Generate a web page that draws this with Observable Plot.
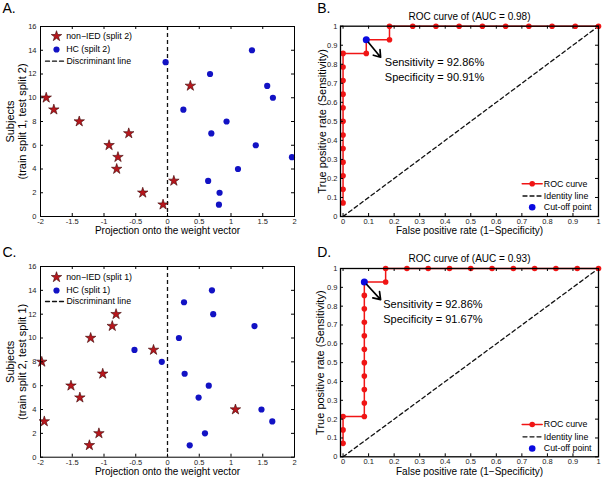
<!DOCTYPE html>
<html><head><meta charset="utf-8">
<script src="https://cdn.jsdelivr.net/npm/d3@7"></script>
<script src="https://cdn.jsdelivr.net/npm/@observablehq/plot@0.6"></script>
<style>
body{margin:0;background:#fff;}
#fig{position:relative;width:602px;height:479px;background:#fff;overflow:hidden;}
#fig > div{position:absolute;}
svg{overflow:visible;}
</style></head><body><div id="fig"></div>
<script>
// ---------- Panel A (split 2) ----------
const starA_x = [-1.91, -1.79, -1.39, -0.61, -0.92, -0.78, -0.80, -0.39, -0.07, 0.10, 0.36];
const starA_y = [10, 9, 8, 7, 6, 5, 4, 2, 1, 3, 11];
const hcA_x = [-0.03, 0.67, 0.25, 1.33, 1.57, 1.66, 0.93, 0.69, 1.39, 1.96, 1.11, 0.64, 0.82, 0.81];
const hcA_y = [13, 12, 9, 14, 11, 10, 8, 7, 6, 5, 4, 3, 2, 1];
// ---------- Panel C (split 1) ----------
const starC_x = [-0.81, -0.87, -1.21, -0.22, -1.98, -1.02, -1.52, -1.38, 1.07, -1.94, -1.08, -1.23];
const starC_y = [12, 11, 10, 9, 8, 7, 6, 5, 4, 3, 2, 1];
const hcC_x = [0.70, 0.26, 0.72, 1.37, 0.18, -0.52, -0.09, 0.27, 0.65, 0.49, 1.48, 1.65, 0.59, 0.35];
const hcC_y = [14, 13, 12, 11, 10, 9, 8, 7, 6, 5, 4, 3, 2, 1];
const scatterXTicks = [-2, -1.5, -1, -0.5, 0, 0.5, 1, 1.5, 2];
const scatterYTicks = [0, 2, 4, 6, 8, 10, 12, 14, 16];
const discriminantX = [0];

// ---------- Panel B ROC ----------
const rocB_fpr = [0,0,0,0,0,0,0,0,0,0,0,0,0.0909,0.0909,0.1818,0.1818,0.2727,0.3636,0.4545,0.5455,0.6364,0.7273,0.8182,0.9091,1];
const rocB_tpr = [0.0714,0.1429,0.2143,0.2857,0.3571,0.4286,0.5,0.5714,0.6429,0.7143,0.7857,0.8571,0.8571,0.9286,0.9286,1,1,1,1,1,1,1,1,1,1];
const cutB = {x: 0.0909, y: 0.9286};
const arrowEndB = {x: 0.147, y: 0.837};
const annB = ["Sensitivity = 92.86%", "Specificity = 90.91%"];
// ---------- Panel D ROC ----------
const rocD_fpr = [0,0,0,0.0833,0.0833,0.0833,0.0833,0.0833,0.0833,0.0833,0.0833,0.0833,0.0833,0.0833,0.1667,0.1667,0.25,0.3333,0.4167,0.5,0.5833,0.6667,0.75,0.8333,0.9167,1];
const rocD_tpr = [0.0714,0.1429,0.2143,0.2143,0.2857,0.3571,0.4286,0.5,0.5714,0.6429,0.7143,0.7857,0.8571,0.9286,0.9286,1,1,1,1,1,1,1,1,1,1,1];
const cutD = {x: 0.0833, y: 0.9286};
const arrowEndD = {x: 0.147, y: 0.835};
const annD = ["Sensitivity = 92.86%", "Specificity = 91.67%"];
const rocTicks = [0, 0.1, 0.2, 0.3, 0.4, 0.5, 0.6, 0.7, 0.8, 0.9, 1];
const identityX = [0, 1];
const identityY = [0, 1];

const FONT = "'Liberation Sans', Arial, Helvetica, sans-serif";
const LEG = 8.8;
const lineShape = {draw(ctx, l) { ctx.moveTo(0, 0); ctx.lineTo(0, -l); }};

function innerTicks(xt, yt, fw, fh, sw) {
  const s = {stroke: "#000", strokeWidth: sw || 1};
  return [
    Plot.tickX(xt, {x: d => d, insetTop: fh - 3, ...s}),
    Plot.tickX(xt, {x: d => d, insetBottom: fh - 3, ...s}),
    Plot.tickY(yt, {y: d => d, insetRight: fw - 3, ...s}),
    Plot.tickY(yt, {y: d => d, insetLeft: fw - 3, ...s})
  ];
}

function scatter(p) {
  const fw = p.width - p.ml - p.mr, fh = p.height - p.mt - p.mb;
  const stars = p.sx.map((x, i) => ({x, y: p.sy[i]}));
  const hcs = p.hx.map((x, i) => ({x, y: p.hy[i]}));
  const starStyle = {symbol: "star", r: 3.3, fill: "#b8161c", stroke: "#3d0505", strokeWidth: 0.6};
  const hcStyle = {r: 3.1, fill: "#1212c4"};
  const ta = (s, o) => Plot.text([s], {text: d => d, frameAnchor: "top-left", lineAnchor: "middle", textAnchor: "start", fill: "#000", ...o});
  return Plot.plot({
    width: p.width, height: p.height,
    marginLeft: p.ml, marginRight: p.mr, marginTop: p.mt, marginBottom: p.mb,
    style: {fontFamily: FONT, background: "transparent", color: "#000", overflow: "visible"},
    x: {domain: [-2, 2]}, y: {domain: [0, 16]},
    marks: [
      Plot.ruleX(discriminantX, {x: d => d, stroke: "#111", strokeWidth: 1.3, strokeDasharray: "4,3"}),
      Plot.dot(hcs, {x: "x", y: "y", ...hcStyle}),
      Plot.dot(stars, {x: "x", y: "y", ...starStyle}),
      Plot.frame({stroke: "#000", strokeWidth: 1}),
      ...innerTicks(scatterXTicks, scatterYTicks, fw, fh),
      Plot.axisX(scatterXTicks, {tickSize: 0, tickPadding: 2, fontSize: 7.5, fill: "#222", tickFormat: d => String(d), label: null}),
      Plot.axisY(scatterYTicks, {tickSize: 0, tickPadding: 4, fontSize: 7.5, fill: "#222", tickFormat: d => String(d), label: null}),
      // legend
      Plot.dot([0], {frameAnchor: "top-left", dx: 16, dy: p.lg[0], ...starStyle}),
      ta(p.leg1, {dx: 25.7, dy: p.lg[0], fontSize: LEG}),
      Plot.dot([0], {frameAnchor: "top-left", dx: 16, dy: p.lg[1], ...hcStyle}),
      ta(p.leg2, {dx: 25.7, dy: p.lg[1], fontSize: LEG}),
      Plot.vector([0], {frameAnchor: "top-left", dx: 5, dy: p.lg[2], length: 18.3, rotate: 90, anchor: "start", shape: lineShape, stroke: "#111", strokeWidth: 1.3, strokeDasharray: "4,3"}),
      ta("Discriminant line", {dx: 26, dy: p.lg[2], fontSize: LEG}),
      // panel letter
      ta(p.letter, {dx: -38, dy: p.letterDy, fontSize: 14}),
      // axis labels
      Plot.text(["Projection onto the weight vector"], {text: d => d, frameAnchor: "bottom", lineAnchor: "middle", textAnchor: "middle", dy: p.xlDy, fontSize: 10, fill: "#000"}),
      Plot.text([p.ylab], {text: d => d, frameAnchor: "left", rotate: -90, lineAnchor: "middle", textAnchor: "middle", lineHeight: 1.06, dx: -24.2, fontSize: 11, fill: "#000"})
    ]
  });
}

function roc(p) {
  const fw = p.width - p.ml - p.mr, fh = p.height - p.mt - p.mb;
  const pts = p.fpr.map((x, i) => ({x, y: p.tpr[i]}));
  const ident = identityX.map((x, i) => ({x, y: identityY[i]}));
  const red = "#f01515", blue = "#0a0ae0";
  const ta = (s, anchor, o) => Plot.text([s], {text: d => d, frameAnchor: anchor, lineAnchor: "middle", textAnchor: "start", fill: "#000", ...o});
  return Plot.plot({
    width: p.width, height: p.height,
    marginLeft: p.ml, marginRight: p.mr, marginTop: p.mt, marginBottom: p.mb,
    style: {fontFamily: FONT, background: "transparent", color: "#000", overflow: "visible"},
    x: {domain: [-0.01, 1]}, y: {domain: [0, 1]},
    marks: [
      Plot.line(ident, {x: "x", y: "y", stroke: "#111", strokeWidth: 1.3, strokeDasharray: "4,3"}),
      Plot.line(pts, {x: "x", y: "y", stroke: red, strokeWidth: 1.5}),
      Plot.dot(pts, {x: "x", y: "y", r: 2.8, fill: red}),
      Plot.dot([p.cut], {x: "x", y: "y", r: 3.5, fill: blue}),
      Plot.arrow([0], {x1: () => p.cut.x, y1: () => p.cut.y, x2: () => p.arrowEnd.x, y2: () => p.arrowEnd.y, stroke: "#000", strokeWidth: 1.7, headLength: 7, headAngle: 70, insetStart: 3.5}),
      ta(p.ann[0], "top-left", {dx: p.annDx, dy: p.annDy[0], fontSize: 11}),
      ta(p.ann[1], "top-left", {dx: p.annDx, dy: p.annDy[1], fontSize: 11}),
      Plot.frame({stroke: "#000", strokeWidth: 1.3}),
      ...innerTicks(rocTicks, rocTicks, fw, fh),
      Plot.axisX(rocTicks, {tickSize: 0, tickPadding: 2, fontSize: 7.5, fill: "#222", tickFormat: d => String(d), label: null}),
      Plot.axisY(rocTicks, {tickSize: 0, tickPadding: 3, fontSize: 7.5, fill: "#222", tickFormat: d => String(d), label: null}),
      // legend
      Plot.vector([0], {frameAnchor: "bottom-right", dx: -76.3, dy: p.lg[0], length: 20, rotate: 90, anchor: "start", shape: lineShape, stroke: red, strokeWidth: 1.5}),
      Plot.dot([0], {frameAnchor: "bottom-right", dx: -66.3, dy: p.lg[0], r: 2.8, fill: red}),
      ta("ROC curve", "bottom-right", {dx: -54.7, dy: p.lg[0], fontSize: LEG}),
      Plot.vector([0], {frameAnchor: "bottom-right", dx: -75.5, dy: p.lg[1], length: 20, rotate: 90, anchor: "start", shape: lineShape, stroke: "#111", strokeWidth: 1.3, strokeDasharray: "4,3"}),
      ta("Identity line", "bottom-right", {dx: -54.7, dy: p.lg[1], fontSize: LEG}),
      Plot.dot([0], {frameAnchor: "bottom-right", dx: -66.3, dy: p.lg[2], r: 3.3, fill: blue}),
      ta("Cut-off point", "bottom-right", {dx: -54.7, dy: p.lg[2], fontSize: LEG}),
      // letter, title, axis labels
      ta(p.letter, "top-left", {dx: -23.3, dy: p.letterDy, fontSize: 14}),
      Plot.text([p.title], {text: d => d, frameAnchor: "top", lineAnchor: "middle", textAnchor: "middle", dy: p.titleDy, fontSize: 10, fill: "#000"}),
      Plot.text(["False positive rate (1\u2212Specificity)"], {text: d => d, frameAnchor: "bottom", lineAnchor: "middle", textAnchor: "middle", dy: p.xlDy, fontSize: 10, fill: "#000"}),
      Plot.text(["True positive rate (Sensitivity)"], {text: d => d, frameAnchor: "left", rotate: -90, lineAnchor: "middle", textAnchor: "middle", dx: p.ylDx, fontSize: 11, fill: "#000"})
    ]
  });
}

const fig = document.getElementById("fig");
function place(node, left, top) {
  const d = document.createElement("div");
  d.style.left = left + "px"; d.style.top = top + "px";
  d.appendChild(node); fig.appendChild(d);
}

place(scatter({width: 300, height: 240, ml: 40, mr: 6, mt: 26, mb: 24,
  sx: starA_x, sy: starA_y, hx: hcA_x, hy: hcA_y,
  leg1: "non\u2212IED (split 2)", leg2: "HC (spilt 2)", lg: [9.7, 23, 34.7],
  letter: "A.", letterDy: -18.3, xlDy: 14.5,
  ylab: "Subjects\n(train split 1, test split 2)"}), 0, 0);

place(roc({width: 302, height: 240, ml: 40, mr: 4, mt: 25.7, mb: 24,
  fpr: rocB_fpr, tpr: rocB_tpr, cut: cutB, arrowEnd: arrowEndB, ann: annB,
  annDx: 44.3, annDy: [36.5, 51.5], lg: [-32.7, -20.5, -9.3],
  letter: "B.", letterDy: -18, title: "ROC curve of (AUC = 0.98)", titleDy: -9.7, xlDy: 14.5, ylDx: -18.3}), 300, 0);

place(scatter({width: 300, height: 239, ml: 40, mr: 6, mt: 26, mb: 22.3,
  sx: starC_x, sy: starC_y, hx: hcC_x, hy: hcC_y,
  leg1: "non\u2212IED (split 1)", leg2: "HC (split 1)", lg: [10.7, 24, 35],
  letter: "C.", letterDy: -13.7, xlDy: 14.5,
  ylab: "Subjects\n(train split 2, test split 1)"}), 0, 240);

place(roc({width: 302, height: 239, ml: 40, mr: 4, mt: 28, mb: 22.7,
  fpr: rocD_fpr, tpr: rocD_tpr, cut: cutD, arrowEnd: arrowEndD, ann: annD,
  annDx: 42.7, annDy: [35.7, 50.7], lg: [-32.3, -20, -8.3],
  letter: "D.", letterDy: -15.5, title: "ROC curve of (AUC = 0.93)", titleDy: -10, xlDy: 14.5, ylDx: -20}), 300, 240);
</script></body></html>
